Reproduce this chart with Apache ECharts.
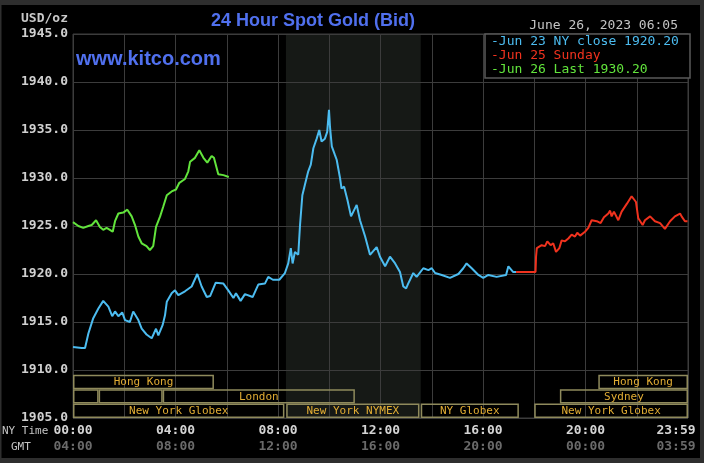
<!DOCTYPE html>
<html>
<head>
<meta charset="utf-8">
<script src="https://cdn.jsdelivr.net/npm/echarts@6/dist/echarts.min.js"></script>
<style>html,body{margin:0;padding:0;background:#000}#c{width:704px;height:463px}</style>
</head>
<body>
<div id="c"></div>
<script>
// ---- data (hours in NY time, price USD/oz) ----
const jun23 = [[0,1912.4],[0.34,1912.3],[0.47,1912.3],[0.6,1913.8],[0.79,1915.4],[0.99,1916.4],[1.18,1917.2],[1.38,1916.6],[1.53,1915.6],[1.64,1916.1],[1.77,1915.6],[1.92,1916.0],[2.03,1915.2],[2.22,1915.0],[2.35,1916.1],[2.55,1915.2],[2.68,1914.3],[2.87,1913.7],[3.07,1913.3],[3.24,1914.3],[3.33,1913.6],[3.5,1914.7],[3.59,1915.7],[3.66,1917.1],[3.85,1918.0],[3.98,1918.3],[4.11,1917.8],[4.37,1918.2],[4.63,1918.7],[4.85,1920.0],[5.02,1918.7],[5.22,1917.6],[5.35,1917.7],[5.57,1919.1],[5.87,1919.0],[6.06,1918.3],[6.26,1917.5],[6.36,1918.0],[6.54,1917.2],[6.71,1917.9],[7.01,1917.6],[7.23,1918.9],[7.49,1919.0],[7.62,1919.7],[7.8,1919.4],[8.05,1919.4],[8.27,1920.1],[8.4,1921.1],[8.5,1922.7],[8.57,1921.1],[8.66,1922.3],[8.79,1922.0],[8.86,1925.1],[8.95,1928.2],[9.05,1929.3],[9.18,1930.7],[9.28,1931.4],[9.38,1933.1],[9.51,1934.1],[9.61,1935.0],[9.7,1933.8],[9.83,1934.1],[9.92,1934.8],[9.99,1937.1],[10.03,1935.3],[10.1,1933.3],[10.22,1932.4],[10.29,1931.9],[10.42,1930.0],[10.48,1928.9],[10.58,1929.1],[10.71,1927.7],[10.85,1926.0],[11.07,1927.2],[11.2,1925.6],[11.4,1923.9],[11.59,1922.0],[11.85,1922.8],[11.98,1921.8],[12.18,1920.8],[12.37,1921.8],[12.57,1921.1],[12.76,1920.2],[12.89,1918.7],[13.0,1918.5],[13.08,1919.0],[13.28,1920.1],[13.41,1919.7],[13.67,1920.6],[13.87,1920.4],[14.0,1920.6],[14.13,1920.1],[14.39,1919.9],[14.71,1919.6],[15.04,1920.0],[15.23,1920.6],[15.36,1921.1],[15.56,1920.6],[15.82,1919.9],[16.01,1919.6],[16.21,1919.9],[16.53,1919.7],[16.9,1919.9],[16.99,1920.8],[17.18,1920.2],[17.29,1920.2]];
const jun25 = [[17.29,1920.2],[18.05,1920.2],[18.07,1921.8],[18.1,1922.7],[18.29,1923.0],[18.42,1922.9],[18.51,1923.4],[18.64,1923.0],[18.74,1923.2],[18.85,1922.3],[18.98,1922.7],[19.07,1923.5],[19.2,1923.4],[19.33,1923.7],[19.46,1924.1],[19.59,1923.9],[19.68,1924.3],[19.79,1924.0],[19.98,1924.4],[20.11,1924.8],[20.24,1925.6],[20.44,1925.5],[20.59,1925.3],[20.72,1925.9],[20.89,1926.3],[20.96,1926.6],[21.02,1926.0],[21.11,1926.5],[21.28,1925.6],[21.41,1926.5],[21.61,1927.3],[21.8,1928.1],[21.87,1928.2],[21.97,1927.5],[22.06,1925.8],[22.23,1925.1],[22.32,1925.6],[22.52,1926.0],[22.58,1926.2],[22.71,1925.5],[22.91,1925.3],[23.1,1924.7],[23.3,1925.5],[23.49,1926.0],[23.69,1926.3],[23.75,1926.0],[23.88,1925.5],[23.98,1925.5]];
const jun26 = [[0,1925.4],[0.21,1925.0],[0.4,1924.8],[0.6,1925.0],[0.73,1925.1],[0.9,1925.6],[1.05,1924.9],[1.18,1924.6],[1.31,1924.8],[1.44,1924.6],[1.55,1924.4],[1.64,1925.5],[1.77,1926.3],[1.96,1926.4],[2.12,1926.7],[2.29,1926.0],[2.42,1925.1],[2.55,1923.9],[2.68,1923.2],[2.87,1922.9],[3.0,1922.5],[3.13,1922.9],[3.24,1924.9],[3.4,1926.0],[3.52,1927.0],[3.66,1928.2],[3.85,1928.6],[4.02,1928.8],[4.15,1929.5],[4.37,1929.9],[4.5,1930.7],[4.57,1931.7],[4.76,1932.1],[4.93,1932.9],[5.09,1932.1],[5.24,1931.6],[5.41,1932.3],[5.5,1932.1],[5.67,1930.4],[5.87,1930.3],[6.08,1930.1]];

// trading sessions: [start hour, end hour, row]
const sessions = [[0,5.5,2],[20.5,24,2],[0,1,1],[1,3.5,1],[3.5,11,1],[19,24,1],[0,8.25,0],[8.32,13.52,0],[13.57,17.4,0],[18,24,0]];
const sessionLabels = ['Hong Kong','Hong Kong','','','London','Sydney','New York Globex','New York NYMEX','NY Globex','New York Globex'];
const nymexShade = [[8.31,13.57]];

const nyTimeLabels = ['00:00','04:00','08:00','12:00','16:00','20:00','23:59'];
const gmtLabels = ['04:00','08:00','12:00','16:00','20:00','00:00','03:59'];
const legendLabels = ['-Jun 23 NY close 1920.20','-Jun 25 Sunday','-Jun 26 Last 1930.20'];
const titleText = '24 Hour Spot Gold (Bid)';
const dateText = 'June 26, 2023 06:05';

const BLUE = '#4cbcf0', RED = '#f0321e', GREEN = '#62e43c';
const MONO = '"DejaVu Sans Mono", monospace';

const chart = echarts.init(document.getElementById('c'), null, {renderer:'canvas'});
const option = {
  backgroundColor: '#000',
  animation: false,
  grid: {left:73, right:16, top:34, bottom:45, show:true, borderColor:'#3c3c3c', borderWidth:1, backgroundColor:'transparent', containLabel:false, outerBoundsMode:'none'},
  xAxis: {
    type:'value', min:0, max:24, interval:2,
    axisLine:{show:false}, axisTick:{show:false},
    splitLine:{show:true, lineStyle:{color:'#3c3c3c', width:1}},
    axisLabel:{
      margin:5, hideOverlap:false, showMaxLabel:true, showMinLabel:true,
      formatter: function(v){
        if (v % 4 !== 0) return '';
        const i = v/4;
        if (v === 24) return '{al|' + nyTimeLabels[i] + '}\n{gl|' + gmtLabels[i] + '}';
        return '{a|' + nyTimeLabels[i] + '}\n{g|' + gmtLabels[i] + '}';
      },
      rich:{
        a:{fontFamily:MONO, fontWeight:'bold', fontSize:13, color:'#d4d4d4', lineHeight:16},
        g:{fontFamily:MONO, fontWeight:'bold', fontSize:13, color:'#6a6a6a', lineHeight:16},
        al:{fontFamily:MONO, fontWeight:'bold', fontSize:13, color:'#d4d4d4', lineHeight:16, padding:[0,24,0,0]},
        gl:{fontFamily:MONO, fontWeight:'bold', fontSize:13, color:'#6a6a6a', lineHeight:16, padding:[0,24,0,0]}
      }
    }
  },
  yAxis: {
    type:'value', min:1905, max:1945, interval:5,
    axisLine:{show:false}, axisTick:{show:false},
    splitLine:{show:true, lineStyle:{color:'#3c3c3c', width:1}},
    axisLabel:{margin:5, fontFamily:MONO, fontWeight:'bold', fontSize:13, color:'#d0d0d0',
      formatter: v => v.toFixed(1)}
  },
  series: [
    {
      type:'custom', z:-1, silent:true,
      data: nymexShade,
      encode:{x:[0,1]},
      renderItem: function(params, api){
        const p0 = api.coord([api.value(0), 1945]);
        const p1 = api.coord([api.value(1), 1905]);
        return {type:'rect', shape:{x:p0[0], y:p0[1], width:p1[0]-p0[0], height:p1[1]-p0[1]}, style:{fill:'#161916'}};
      }
    },
    {
      type:'custom', silent:true, z:3,
      data: sessions,
      encode:{x:[0,1]},
      renderItem: function(params, api){
        const s = api.value(0), e = api.value(1), r = api.value(2);
        const b = api.coord([s, 1905]);
        const c = api.coord([e, 1905]);
        const h = 14.4;
        const yTop = b[1] - (r+1)*h;
        const children = [{type:'rect', shape:{x:b[0]+0.75, y:yTop+0.75, width:c[0]-b[0]-1.5, height:h-1.5},
          style:{fill:'transparent', stroke:'#8f8a5c', lineWidth:1.5}}];
        const lab = sessionLabels[params.dataIndex];
        if (lab) children.push({type:'text', style:{text:lab, x:(b[0]+c[0])/2, y:yTop+h/2+0.5, align:'center', verticalAlign:'middle',
          fill:'#e2ad34', font:'11px ' + MONO}});
        return {type:'group', children:children};
      }
    },
    {name:legendLabels[0], type:'line', data:jun23, showSymbol:false, lineStyle:{color:BLUE, width:2}, itemStyle:{color:BLUE}},
    {name:legendLabels[2], type:'line', data:jun26, showSymbol:false, lineStyle:{color:GREEN, width:2}, itemStyle:{color:GREEN}},
    {name:legendLabels[1], type:'line', data:jun25, showSymbol:false, lineStyle:{color:RED, width:2}, itemStyle:{color:RED}}
  ],
  graphic: [
    {type:'text', x:313, y:21, z:10, style:{text:titleText, fill:'#5070ee', font:'bold 18px "Liberation Sans", Arial, sans-serif', align:'center', verticalAlign:'middle'}},
    {type:'text', x:76, y:59, z:10, style:{text:'www.kitco.com', fill:'#5070ee', font:'bold 20px "Liberation Sans", Arial, sans-serif', align:'left', verticalAlign:'middle'}},
    {type:'text', x:678, y:26, z:10, style:{text:dateText, fill:'#c4c4c4', font:'13px ' + MONO, align:'right', verticalAlign:'middle'}},
    {type:'text', x:68, y:19, z:10, style:{text:'USD/oz', fill:'#c8c8c8', font:'bold 13px ' + MONO, align:'right', verticalAlign:'middle'}},
    {type:'text', x:2, y:431, z:10, style:{text:'NY Time', fill:'#c4c4c4', font:'11px ' + MONO, align:'left', verticalAlign:'middle'}},
    {type:'text', x:11, y:447, z:10, style:{text:'GMT', fill:'#c4c4c4', font:'11px ' + MONO, align:'left', verticalAlign:'middle'}},
    {type:'rect', z:20, shape:{x:485, y:34, width:205, height:44}, style:{fill:'#000', stroke:'#5a5a5a', lineWidth:1.5}},
    {type:'text', x:491, y:42, z:21, style:{text:legendLabels[0], fill:BLUE, font:'13px ' + MONO, align:'left', verticalAlign:'middle'}},
    {type:'text', x:491, y:56, z:21, style:{text:legendLabels[1], fill:RED, font:'13px ' + MONO, align:'left', verticalAlign:'middle'}},
    {type:'text', x:491, y:70, z:21, style:{text:legendLabels[2], fill:GREEN, font:'13px ' + MONO, align:'left', verticalAlign:'middle'}},
    {type:'rect', z:100, shape:{x:0, y:0, width:704, height:5}, style:{fill:'#2e2e2e'}},
    {type:'rect', z:100, shape:{x:0, y:458, width:704, height:5}, style:{fill:'#2e2e2e'}},
    {type:'rect', z:100, shape:{x:0, y:0, width:1.5, height:463}, style:{fill:'#2e2e2e'}},
    {type:'rect', z:100, shape:{x:700, y:0, width:4, height:463}, style:{fill:'#2e2e2e'}}
  ]
};
chart.setOption(option);
</script>
</body>
</html>
